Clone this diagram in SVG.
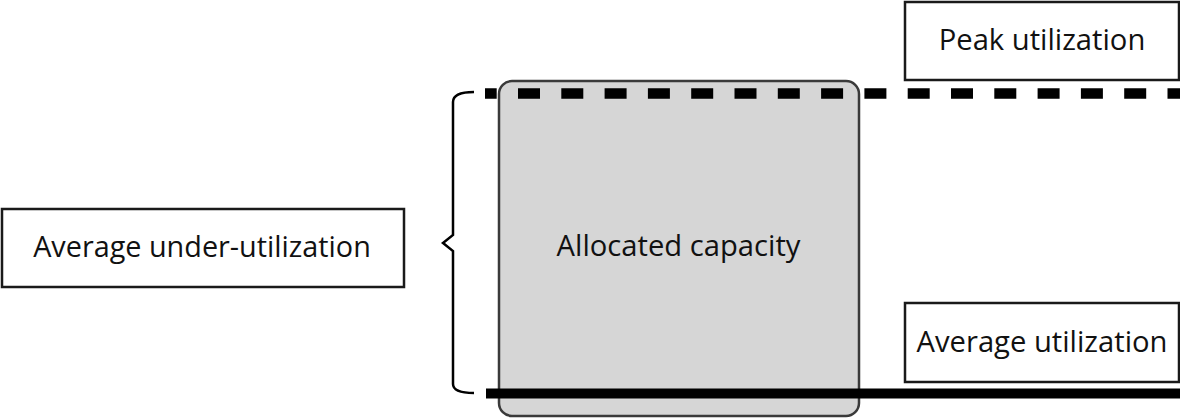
<svg xmlns="http://www.w3.org/2000/svg" width="1180" height="419" viewBox="0 0 1180 419">
<style>
.lbl{fill:#fff;stroke:#1a1a1a;stroke-width:2.5}
.t{font-family:"Open Sans","Noto Sans",sans-serif;font-size:29.2px;fill:#111;text-anchor:middle}
</style>
<rect width="1180" height="419" fill="#fff"/>
<g id="allocated">
<rect x="499" y="81" width="360" height="335" rx="13" fill="#d6d6d6" stroke="#3a3a3a" stroke-width="2.5"/>
<text class="t" x="678.5" y="256">Allocated capacity</text>
</g>
<g id="connectors">
<line x1="485" y1="93.5" x2="1180" y2="93.5" stroke="#000" stroke-width="10.5" stroke-dasharray="22 21.3" stroke-dashoffset="10.3"/>
<line x1="486" y1="393.5" x2="1180" y2="393.5" stroke="#000" stroke-width="10"/>
<path d="M474,92 C462,92 453,94 453,102 L453,235 L443,243 L453,251 L453,384 C453,391 462,393 474,393" fill="none" stroke="#000" stroke-width="2.5"/>
</g>
<g id="peak">
<rect class="lbl" x="905" y="2" width="274" height="78"/>
<text class="t" x="1042" y="50">Peak utilization</text>
</g>
<g id="average">
<rect class="lbl" x="905" y="303" width="274" height="79"/>
<text class="t" x="1042" y="352">Average utilization</text>
</g>
<g id="under">
<rect class="lbl" x="2" y="209" width="402" height="78"/>
<text class="t" x="202" y="257" style="font-size:28.8px">Average under-utilization</text>
</g>
</svg>
